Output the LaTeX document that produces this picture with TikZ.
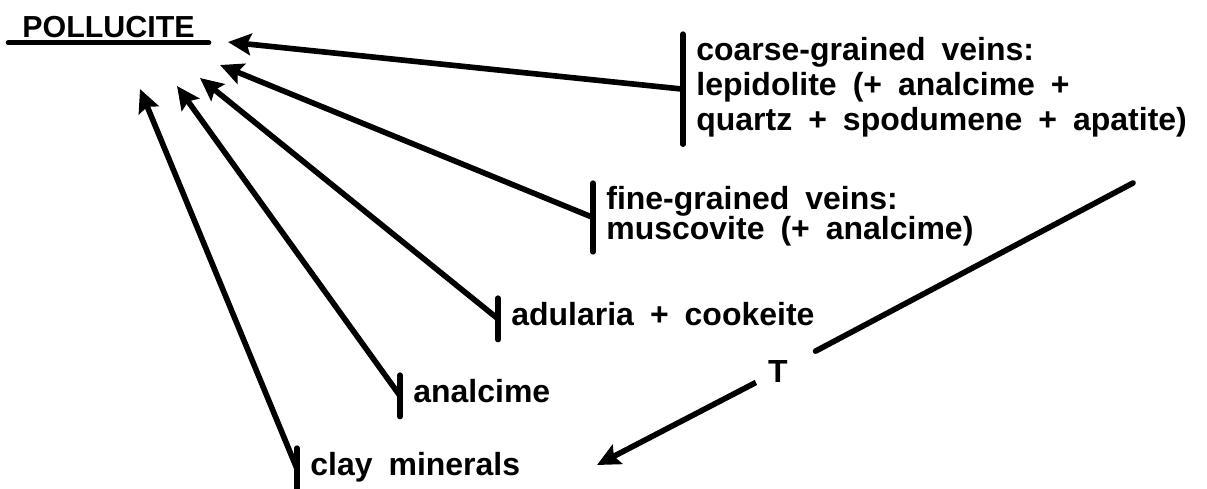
\documentclass[tikz,border=0pt]{standalone}
\usepackage{fontspec}
\setmainfont{Liberation Sans}[WordSpace=1.8]
\usetikzlibrary{arrows.meta}

\begin{document}
\begin{tikzpicture}[x=0.2mm, y=-0.2mm,
  txt/.style={font=\fontsize{18.2}{19.9}\bfseries\selectfont, inner sep=0pt},
  lbl/.style={txt, anchor=north west, align=left, inner xsep=0.26cm, inner ysep=0.06cm,
    execute at begin node=\strut, execute at end node=\strut},
  bar/.style={line width=3pt, line cap=round},
  arr/.style={line width=3.2pt, -{Stealth[length=4.6mm, width=4.3mm, inset=0.8mm]}}]
\useasboundingbox (0,0) rectangle (1207,488);
\node[txt, font=\fontsize{17.3}{19.9}\bfseries\selectfont, anchor=base west, inner xsep=0.28cm, inner ysep=0.1cm] (pollucite) at (8,37) {POLLUCITE};
\draw[line width=2.6pt, line cap=round] (pollucite.south west) -- (pollucite.south east);

\node[lbl] (coarse) at (683,34) {coarse-grained veins:\\lepidolite (+ analcime +\\quartz + spodumene + apatite)};
\node[lbl, font=\fontsize{18.2}{17.1}\bfseries\selectfont] (fine) at (593,183) {fine-grained veins:\\muscovite (+ analcime)};
\node[lbl] (adul) at (498,298) {adularia + cookeite};
\node[lbl] (anal) at (400,375) {analcime};
\node[lbl] (clay) at (297,448) {clay minerals};
\foreach \n in {coarse,fine,adul,anal,clay}
  \draw[bar] (\n.north west) -- (\n.south west);

\coordinate (t1) at (228,42);
\coordinate (t2) at (220,65);
\coordinate (t3) at (200,78);
\coordinate (t4) at (177,86);
\coordinate (t5) at (140,89);
\draw[arr] (coarse.west) -- (t1);
\draw[arr] (fine.west) -- (t2);
\draw[arr] (adul.west) -- (t3);
\draw[arr] (anal.west) -- (t4);
\draw[arr] (clay.west) -- (t5);

\node[txt] (T) at (778,371) {T};
\coordinate (ts) at (1133,183);
\coordinate (te) at (597,465);
\draw[line width=3.2pt, line cap=round, shorten >=0.62cm] (ts) -- (T);
\draw[arr, shorten <=0.27cm] (T) -- (te);
\end{tikzpicture}
\end{document}
